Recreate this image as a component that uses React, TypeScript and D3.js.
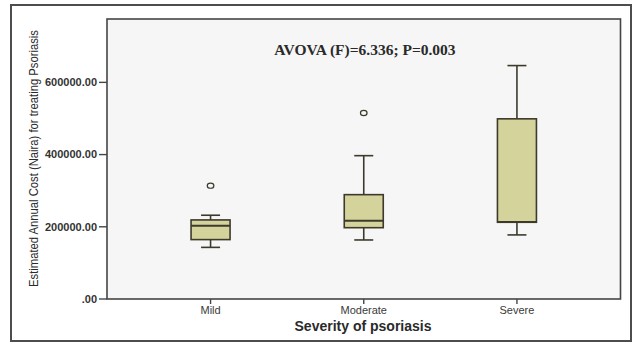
import React from "react";
import * as d3 from "d3";

const categories = ["Mild", "Moderate", "Severe"];
const whiskerLow = [143000, 163500, 177500];
const q1Values = [164500, 197500, 212500];
const medianValues = [203000, 217000, 213000];
const q3Values = [219000, 289000, 499000];
const whiskerHigh = [232000, 397000, 646500];
const outlierValues = [[314000], [515000], []];
const yTicks = [0, 200000, 400000, 600000];

const W = 633, H = 342;
const plot = { left: 107, top: 19, right: 620.5, bottom: 299 };

export default function App() {
  const x = d3.scalePoint<string>().domain(categories).range([plot.left, plot.right]).padding(0.676);
  const y = d3.scaleLinear().domain([0, 775500]).range([plot.bottom, plot.top]);
  const boxW = 39;
  const capW = 19;
  const fmt = (v: number) => (v === 0 ? ".00" : v.toFixed(2));
  const stroke = "#3d3a2c";

  return (
    <svg width={W} height={H} style={{ position: "absolute", left: 0, top: 0 }}>
      <rect x={0} y={0} width={W} height={H} fill="#ffffff" />
      <rect x={11} y={5} width={620} height={336} fill="#ffffff" stroke="#4d4d4d" strokeWidth={2} />
      <rect x={plot.left} y={plot.top} width={plot.right - plot.left} height={plot.bottom - plot.top}
        fill="#f6f6f6" stroke="#454545" strokeWidth={1.6} />
      {yTicks.map((t) => (
        <g key={t}>
          <line x1={99} x2={plot.left} y1={y(t)} y2={y(t)} stroke="#454545" strokeWidth={1.4} />
          <text x={97} y={y(t)} dy="0.35em" textAnchor="end" fontFamily="Liberation Sans, Arial, sans-serif"
            fontSize={11} fontWeight="bold" fill="#333333">{fmt(t)}</text>
        </g>
      ))}
      {categories.map((c, i) => {
        const cx = x(c) as number;
        return (
          <g key={c}>
            <line x1={cx} x2={cx} y1={plot.bottom} y2={plot.bottom + 5} stroke="#454545" strokeWidth={1.4} />
            <text x={cx} y={plot.bottom + 15} textAnchor="middle" fontFamily="Liberation Sans, Arial, sans-serif"
              fontSize={11} fill="#3a3a3a">{c}</text>
            <line x1={cx} x2={cx} y1={y(whiskerHigh[i])} y2={y(q3Values[i])} stroke={stroke} strokeWidth={1.6} />
            <line x1={cx} x2={cx} y1={y(q1Values[i])} y2={y(whiskerLow[i])} stroke={stroke} strokeWidth={1.6} />
            <line x1={cx - capW / 2} x2={cx + capW / 2} y1={y(whiskerHigh[i])} y2={y(whiskerHigh[i])} stroke={stroke} strokeWidth={1.6} />
            <line x1={cx - capW / 2} x2={cx + capW / 2} y1={y(whiskerLow[i])} y2={y(whiskerLow[i])} stroke={stroke} strokeWidth={1.6} />
            <rect x={cx - boxW / 2} y={y(q3Values[i])} width={boxW} height={y(q1Values[i]) - y(q3Values[i])}
              fill="#d5d39c" stroke={stroke} strokeWidth={1.6} />
            <line x1={cx - boxW / 2} x2={cx + boxW / 2} y1={y(medianValues[i])} y2={y(medianValues[i])} stroke={stroke} strokeWidth={2} />
            {outlierValues[i].map((o, j) => (
              <ellipse key={j} cx={cx} cy={y(o)} rx={3.3} ry={2.6} fill="none" stroke={stroke} strokeWidth={1.2} />
            ))}
          </g>
        );
      })}
      <text x={365} y={55} textAnchor="middle" fontFamily="Liberation Serif, Times New Roman, serif"
        fontSize={15.5} fontWeight="bold" fill="#2a2a2a">AVOVA (F)=6.336; P=0.003</text>
      <text x={363} y={331} textAnchor="middle" fontFamily="Liberation Sans, Arial, sans-serif"
        fontSize={14} fontWeight="bold" fill="#2a2a2a">Severity of psoriasis</text>
      <text transform="translate(37.5,158.5) rotate(-90)" textAnchor="middle"
        fontFamily="Liberation Sans, Arial, sans-serif" fontSize={12.5} fill="#2a2a2a"
        textLength={257} lengthAdjust="spacingAndGlyphs">Estimated Annual Cost (Naira) for treating Psoriasis</text>
    </svg>
  );
}
